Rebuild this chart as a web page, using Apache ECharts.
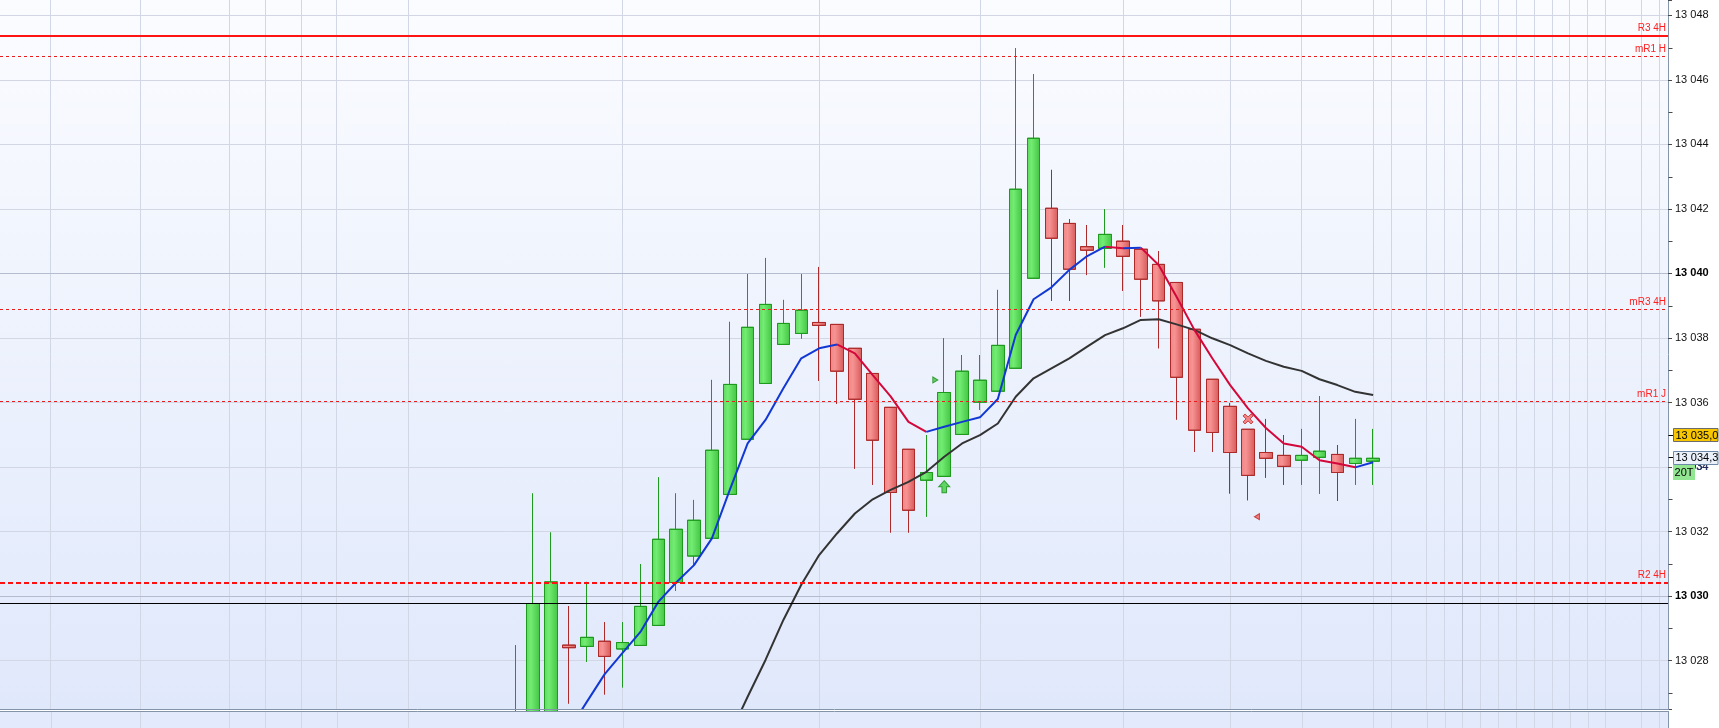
<!DOCTYPE html>
<html>
<head>
<meta charset="utf-8">
<script src="https://cdn.jsdelivr.net/npm/echarts@6/dist/echarts.min.js"></script>
<style>
html,body{margin:0;padding:0;background:#fff;}
#c{width:1719px;height:728px;background:linear-gradient(to bottom,#fbfcff 0%,#eef3fd 45%,#e0e8fb 100%) 0 0/1668px 709px no-repeat,#ffffff;}
</style>
</head>
<body>
<div id="c"></div>
<script>
// ---------------- data ----------------
const FIRST_SLOT = 28;     // slot index of the first candle
const SLOT_COUNT = 93;     // number of bar slots on the time axis

const opens  = [13025.30,13025.50,13025.80,13028.48,13028.44,13028.60,13028.36,13028.47,13029.09,13030.42,
                13031.24,13031.79,13033.15,13034.86,13036.59,13037.80,13038.14,13038.48,13038.42,13037.68,
                13036.90,13035.85,13034.55,13033.59,13033.71,13035.01,13036.01,13036.35,13037.06,13039.85,
                13042.02,13041.55,13040.83,13040.78,13041.00,13040.75,13040.28,13039.72,13038.27,13036.72,
                13035.88,13035.17,13034.45,13034.36,13034.21,13034.30,13034.39,13034.11,13034.18];
const closes = [13026.00,13029.77,13030.44,13028.40,13028.72,13028.13,13028.56,13029.68,13031.76,13032.07,
                13032.35,13034.52,13036.56,13038.33,13039.04,13038.45,13038.86,13038.39,13036.97,13036.10,
                13034.83,13033.21,13032.66,13033.83,13036.31,13036.97,13036.69,13037.77,13042.61,13044.19,
                13041.09,13040.13,13040.72,13041.21,13040.53,13039.82,13039.15,13036.78,13035.14,13035.07,
                13034.45,13033.74,13034.27,13034.02,13034.36,13034.49,13033.83,13034.27,13034.27];
const lows   = [13025.00,13025.20,13025.50,13026.67,13027.96,13026.95,13027.17,13028.47,13029.09,13030.16,
                13030.96,13031.79,13033.15,13034.86,13036.59,13037.80,13037.98,13036.67,13035.96,13033.95,
                13033.45,13031.97,13031.97,13032.46,13033.71,13035.01,13035.77,13036.35,13037.06,13039.85,
                13039.15,13039.15,13039.95,13040.18,13039.46,13038.66,13037.68,13035.47,13034.47,13034.47,
                13033.18,13032.97,13033.67,13033.45,13033.45,13033.17,13032.95,13033.45,13033.45];
const highs  = [13028.48,13033.18,13031.97,13029.69,13030.44,13029.19,13029.19,13030.99,13033.68,13033.18,
                13032.98,13036.70,13038.50,13039.98,13040.48,13039.18,13039.98,13040.20,13038.42,13037.68,
                13036.90,13035.85,13034.55,13034.99,13037.99,13037.47,13037.47,13039.49,13046.98,13046.18,
                13043.21,13041.68,13041.50,13041.99,13041.50,13040.75,13040.69,13039.72,13038.27,13036.72,
                13035.98,13035.17,13035.49,13034.99,13035.18,13036.20,13034.68,13035.49,13035.18];

const maFast = [null,null,null,13025.85,13026.72,13027.58,13028.24,13028.89,13029.82,13030.42,
                13030.96,13031.79,13033.29,13034.73,13035.46,13036.44,13037.37,13037.68,13037.80,13037.52,
                13036.85,13036.19,13035.40,13035.09,13035.25,13035.40,13035.54,13036.11,13038.09,13039.20,
                13039.57,13040.11,13040.54,13040.83,13040.78,13040.80,13040.26,13039.28,13038.25,13037.37,
                13036.54,13035.82,13035.21,13034.73,13034.63,13034.21,13034.11,13033.99,13034.15];
const maSlow = [null,null,null,null,null,null,null,null,null,null,
                null,null,13025.70,13026.88,13028.02,13029.26,13030.35,13031.27,13031.94,13032.56,
                13033.00,13033.29,13033.54,13033.85,13034.32,13034.73,13034.99,13035.35,13036.18,13036.75,
                13037.06,13037.37,13037.73,13038.09,13038.30,13038.56,13038.58,13038.42,13038.25,13037.99,
                13037.78,13037.52,13037.29,13037.11,13036.98,13036.72,13036.54,13036.33,13036.23];

const levelValues = [13047.38, 13046.72, 13038.89, 13036.04, 13030.42, 13029.77];
const levelNames  = ['R3 4H', 'mR1 H', 'mR3 4H', 'mR1 J', 'R2 4H', ''];
const levelKinds  = ['solid', 'dashed', 'dashed', 'dashed', 'dashedBold', 'black'];

const majorGridValues = [13030, 13040];
const verticalGridSlots = [2,7,12,14,16,18,22,34,45,54,62,68,72,76,77,79,80,81,82,83,84,85,86,87,88,89,91,92];
const strongVerticalSlot = 81;

const quoteValue = 13035.0, quoteText = '13 035,0';
const lastValue  = 13034.3, lastText  = '13 034,3';
const timerText = '20T', timerSub = '34';

const signalEntryTri = [[51.5, 13036.70]];
const signalUpArrow  = [[52, 13033.39]];
const signalExitX    = [[69, 13035.49]];
const signalExitTri  = [[69.5, 13032.46]];

const Y_MIN = 13026.5, Y_MAX = 13048.475;

// ---------------- layout helpers ----------------
const FONT = '"Liberation Sans", Arial, sans-serif';
const PLOT_RIGHT = 51;                 // px kept for the price axis
const CANDLE_LEFT = 6;                 // first slot starts 6 px from the left edge
const PLOT_WIDTH = 1719 - PLOT_RIGHT;  // full plot width (starts at x = 0)
const slotPx = (PLOT_WIDTH - CANDLE_LEFT) / SLOT_COUNT;
const X_MIN = -0.5 - CANDLE_LEFT / slotPx;   // value-axis extent matching the candle slots
const X_MAX = SLOT_COUNT - 0.5;

const cats = Array.from({length: SLOT_COUNT}, (_, i) => String(i));
const candleData = opens.map((o, i) => [FIRST_SLOT + i, o, closes[i], lows[i], highs[i]]);

function monotoneRuns(values) {
  const runs = []; let cur = null;
  for (let i = 0; i + 1 < values.length; i++) {
    const a = values[i], b = values[i + 1];
    if (a == null || b == null) { cur = null; continue; }
    const up = b >= a;
    if (cur && cur.up === up) cur.end = i + 1;
    else { cur = {up, start: i, end: i + 1}; runs.push(cur); }
  }
  return runs;
}
function toPairs(values, from, to) {
  const out = [];
  for (let i = from; i <= to; i++) if (values[i] != null) out.push([FIRST_SLOT + i, values[i]]);
  return out;
}

const fastSeries = monotoneRuns(maFast).map(r => ({
  type: 'line', xAxisIndex: 0, yAxisIndex: 0, data: toPairs(maFast, r.start, r.end),
  symbol: 'none', showSymbol: false, z: 4, silent: true,
  lineStyle: {width: 2, color: r.up ? '#1238d4' : '#d4073a'}
}));

const levelStyle = {
  solid:      {color: '#ff1414', width: 2, type: 'solid'},
  dashed:     {color: '#e81c1c', width: 1, type: [3, 3]},
  dashedBold: {color: '#ff0f0f', width: 2, type: [5, 3]},
  black:      {color: '#000000', width: 1, type: 'solid'}
};

const option = {
  animation: false,
  grid: [
    {left: 0, right: PLOT_RIGHT, top: 0, bottom: 19, containLabel: false},
    {left: CANDLE_LEFT, right: PLOT_RIGHT, top: 0, bottom: 19, containLabel: false}
  ],
  xAxis: [
    {gridIndex: 0, type: 'value', min: X_MIN, max: X_MAX, show: false},
    {gridIndex: 1, type: 'category', data: cats, show: false, boundaryGap: true}
  ],
  yAxis: [{
    gridIndex: 0, type: 'value', position: 'right', min: Y_MIN, max: Y_MAX, splitNumber: 11,
    axisLine: {show: true, onZero: false, lineStyle: {color: '#8795ab', width: 1}},
    axisTick: {show: true, length: 4, lineStyle: {color: '#4a4a4a'}},
    axisLabel: {
      margin: 7, color: '#111', fontSize: 11, fontFamily: FONT,
      formatter: v => {
        if (Math.abs(v - Math.round(v)) > 1e-6 || Math.round(v) % 2 !== 0) return '';
        const s = String(Math.round(v));
        const t = s.slice(0, s.length - 3) + ' ' + s.slice(-3);
        return majorGridValues.indexOf(Math.round(v)) >= 0 ? '{b|' + t + '}' : t;
      },
      rich: {b: {fontWeight: 'bold', fontSize: 11, fontFamily: FONT, color: '#000'}}
    },
    splitLine: {show: true, showMinLine: false, showMaxLine: false, lineStyle: {color: '#d3d7e5', width: 1}}
  }, {
    gridIndex: 1, type: 'value', min: Y_MIN, max: Y_MAX, show: false
  }],
  series: [
    { // vertical time grid + emphasised price grid lines
      type: 'line', xAxisIndex: 0, yAxisIndex: 0, data: [], silent: true, z: 1,
      markLine: {
        silent: true, symbol: ['none', 'none'], label: {show: false}, z: 1,
        data: verticalGridSlots.map(k => ({xAxis: k,
          lineStyle: {color: k === strongVerticalSlot ? '#c2c8d8' : '#d2d7e5', width: 1, type: 'solid'}}))
          .concat(majorGridValues.map(v => ({yAxis: v, lineStyle: {color: '#b6bccd', width: 1, type: 'solid'}})))
      }
    },
    { // price levels
      type: 'line', xAxisIndex: 0, yAxisIndex: 0, data: [], silent: true, z: 3,
      markLine: {
        silent: true, symbol: ['none', 'none'],
        data: levelValues.map((v, i) => ({
          yAxis: v, name: levelNames[i], lineStyle: levelStyle[levelKinds[i]],
          label: {show: levelNames[i] !== '', position: 'insideEndTop', formatter: '{b}', distance: 2,
                  color: '#ff2020', fontSize: 10, fontFamily: FONT}
        }))
      }
    },
    {
      type: 'candlestick', xAxisIndex: 1, yAxisIndex: 1, data: candleData,
      encode: {x: 0, y: [1, 2, 3, 4]}, barWidth: 13, clip: true, z: 2, silent: true,
      itemStyle: {
        color: {type: 'linear', x: 0, y: 0, x2: 1, y2: 0, colorStops: [
          {offset: 0, color: '#5fda5f'}, {offset: 0.35, color: '#72ec72'}, {offset: 1, color: '#43c443'}]},
        color0: {type: 'linear', x: 0, y: 0, x2: 1, y2: 0, colorStops: [
          {offset: 0, color: '#f08585'}, {offset: 0.35, color: '#f79393'}, {offset: 1, color: '#d75a5a'}]},
        borderColor: '#1e9a1e', borderColor0: '#ad2a2a', borderWidth: 1
      }
    },
    {
      type: 'line', xAxisIndex: 0, yAxisIndex: 0, data: toPairs(maSlow, 0, maSlow.length - 1),
      symbol: 'none', showSymbol: false, z: 3, silent: true,
      lineStyle: {width: 2, color: '#333333'}
    },
    ...fastSeries,
    {type: 'scatter', xAxisIndex: 0, yAxisIndex: 0, data: signalEntryTri, symbol: 'triangle', symbolRotate: -90,
     symbolSize: [6, 5], z: 6, silent: true, itemStyle: {color: '#41c841', borderColor: '#1b8b1b', borderWidth: 1}},
    {type: 'scatter', xAxisIndex: 0, yAxisIndex: 0, data: signalUpArrow,
     symbol: 'path://M6,0 L12,6 L8.5,6 L8.5,12 L3.5,12 L3.5,6 L0,6 Z', symbolSize: [11, 12], z: 6, silent: true,
     itemStyle: {color: '#3fcd3f', borderColor: '#138a13', borderWidth: 1}},
    {type: 'scatter', xAxisIndex: 0, yAxisIndex: 0, data: signalExitX,
     symbol: 'path://M2,0 L5,3 L8,0 L10,2 L7,5 L10,8 L8,10 L5,7 L2,10 L0,8 L3,5 L0,2 Z', symbolSize: 10, z: 6, silent: true,
     itemStyle: {color: '#f06a6a', borderColor: '#c42424', borderWidth: 1}},
    {type: 'scatter', xAxisIndex: 0, yAxisIndex: 0, data: signalExitTri, symbol: 'triangle', symbolRotate: 90,
     symbolSize: [6, 5], z: 6, silent: true, itemStyle: {color: '#f06060', borderColor: '#c42020', borderWidth: 1}}
  ]
};

const chart = echarts.init(document.getElementById('c'), null, {renderer: 'canvas'});
chart.setOption(option);

// ---------- overlay elements positioned through the chart's scales ----------
const yPx = v => chart.convertToPixel({yAxisIndex: 0}, v);
const xPx = k => chart.convertToPixel({xAxisIndex: 0}, k);
const AX = PLOT_WIDTH + 0.5;
const g = [];

// lower indicator panel (cut off)
g.push({type: 'rect', shape: {x: 0, y: 711, width: PLOT_WIDTH, height: 17}, style: {fill: '#e2eafb'}, z: 50});
verticalGridSlots.forEach(k => g.push({type: 'line', shape: {x1: Math.round(xPx(k)) + 0.5, y1: 712, x2: Math.round(xPx(k)) + 0.5, y2: 728},
  style: {stroke: '#d2d7e5', lineWidth: 1}, z: 51}));
g.push({type: 'line', shape: {x1: 0, y1: 709.5, x2: PLOT_WIDTH + 1, y2: 709.5}, style: {stroke: '#8494a8', lineWidth: 1}, z: 52});
g.push({type: 'line', shape: {x1: 0, y1: 711.5, x2: PLOT_WIDTH + 1, y2: 711.5}, style: {stroke: '#8494a8', lineWidth: 1}, z: 52});
g.push({type: 'line', shape: {x1: AX, y1: 711, x2: AX, y2: 728}, style: {stroke: '#8795ab', lineWidth: 1}, z: 52});

// odd-value minor ticks
for (let v = 13027; v <= 13047; v += 2) {
  const y = Math.round(yPx(v)) + 0.5;
  g.push({type: 'line', shape: {x1: AX, y1: y, x2: AX + 4, y2: y}, style: {stroke: '#4a4a4a', lineWidth: 1}, z: 52});
}

// price boxes
function priceBox(value, text, fill, stroke) {
  const y = yPx(value);
  g.push({type: 'line', shape: {x1: AX, y1: Math.round(y) + 0.5, x2: AX + 5, y2: Math.round(y) + 0.5}, style: {stroke: '#000', lineWidth: 1}, z: 60});
  g.push({type: 'rect', shape: {x: AX + 5, y: Math.round(y - 6.5) + 0.5, width: 44.5, height: 13},
    style: {fill: fill, stroke: stroke, lineWidth: 1}, z: 61});
  g.push({type: 'text', x: AX + 7, y: Math.round(y) + 1, style: {text: text, font: '11px ' + FONT, fill: '#000',
    textAlign: 'left', textVerticalAlign: 'middle'}, z: 62});
  return y;
}
const yLast = yPx(lastValue);
g.push({type: 'text', x: AX + 27.5, y: Math.round(yLast) + 10, style: {text: timerSub, font: '11px ' + FONT, fill: '#1f2f66',
  textAlign: 'left', textVerticalAlign: 'middle'}, z: 59});
priceBox(quoteValue, quoteText, '#f7c600', '#6b6b6b');
priceBox(lastValue, lastText, '#eaf1fb', '#6f8aa8');
g.push({type: 'rect', shape: {x: AX + 4.5, y: Math.round(yLast) + 8, width: 22, height: 15}, style: {fill: '#92e692'}, z: 61});
g.push({type: 'text', x: AX + 15.5, y: Math.round(yLast) + 16, style: {text: timerText, font: '11px ' + FONT, fill: '#000',
  textAlign: 'center', textVerticalAlign: 'middle'}, z: 62});

chart.setOption({graphic: {elements: g}});
</script>
</body>
</html>
